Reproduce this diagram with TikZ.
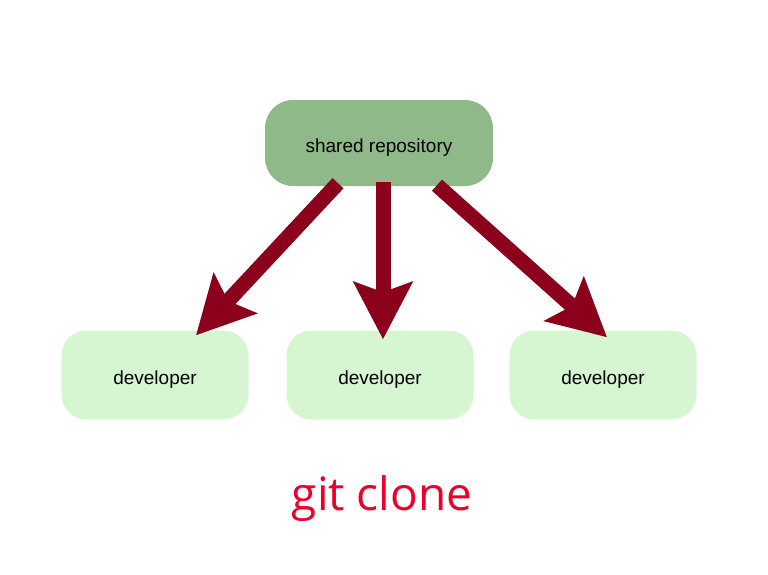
\documentclass[tikz,border=0pt]{standalone}
\usepackage{fontspec}
\setmainfont{Liberation Sans}
\newfontfamily\titlefont{Open Sans}
\usepackage{xcolor}
\usetikzlibrary{arrows.meta}
\definecolor{repogreen}{RGB}{143,185,136}
\definecolor{devgreen}{RGB}{214,245,209}
\definecolor{arrowred}{RGB}{139,0,26}
\definecolor{titlered}{RGB}{234,0,42}

\begin{document}
\begin{tikzpicture}[x=1pt,y=-1pt,
   repo/.style={fill=repogreen,rounded corners=28pt,minimum width=228pt,minimum height=86pt,text height=18pt,text depth=0pt,font=\fontsize{19}{23}\selectfont},
   dev/.style={fill=devgreen,rounded corners=25pt,minimum width=187pt,minimum height=89pt,text height=18pt,text depth=0pt,font=\fontsize{19}{23}\selectfont},
   clonearrow/.style={draw=arrowred,line width=15pt,-{Stealth[length=57pt,width=58pt,inset=10pt]}}]
   \useasboundingbox (0,0) rectangle (768,574);
   \node[repo] (shared) at (379,143) {shared repository};
   \node[dev] (devA) at (155,375) {developer};
   \node[dev] (devB) at (380,375) {developer};
   \node[dev] (devC) at (603,375) {developer};
   \draw[clonearrow] ([xshift=-41pt,yshift=3pt]shared.south) -- ([xshift=41pt,yshift=-5pt]devA.north);
   \draw[clonearrow] ([xshift=4pt,yshift=4pt]shared.south) -- ([xshift=3pt,yshift=-9pt]devB.north);
   \draw[clonearrow] ([xshift=58pt,yshift=1pt]shared.south) -- ([xshift=4pt,yshift=-7pt]devC.north);
   \node[font=\titlefont\fontsize{46}{50}\selectfont,text=titlered] (title) at (382,499) {git clone};
\end{tikzpicture}
\end{document}
